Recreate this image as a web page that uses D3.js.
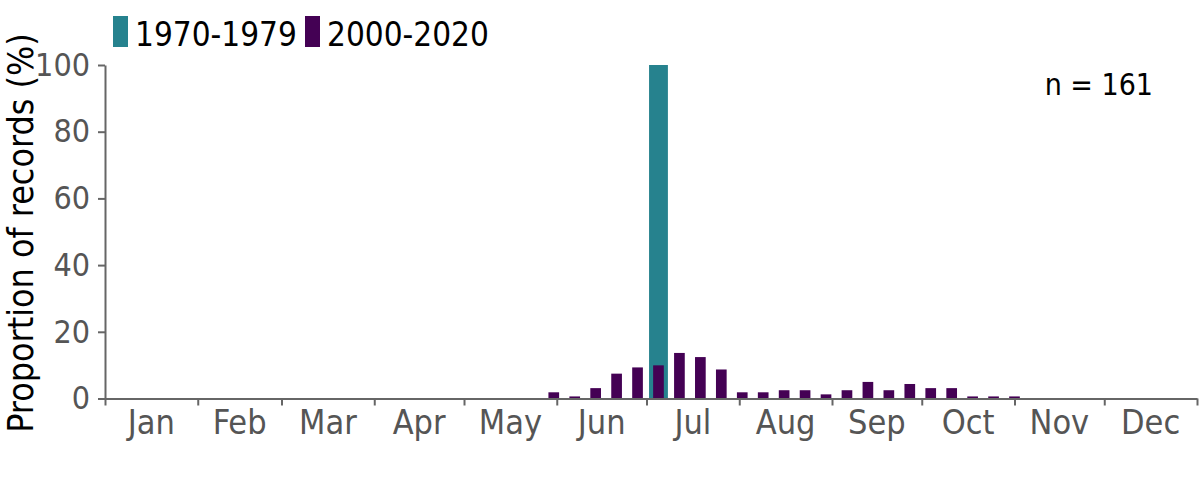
<!DOCTYPE html>
<html>
<head>
<meta charset="utf-8">
<script src="https://cdn.jsdelivr.net/npm/d3@7"></script>
<style>
  html, body { margin: 0; padding: 0; background: #fff; }
  svg { display: block; }
  text { font-family: "DejaVu Sans Condensed", "DejaVu Sans", sans-serif; font-stretch: condensed; }
</style>
</head>
<body>
<svg id="chart" width="1200" height="480"></svg>
<script>
// ---- data ----
const monthLabels = ["Jan","Feb","Mar","Apr","May","Jun","Jul","Aug","Sep","Oct","Nov","Dec"];
const monthDays = [31,28,31,30,31,30,31,31,30,31,30,31];
const yTicks = [0,20,40,60,80,100];
const seriesNames = ["1970-1979","2000-2020"];
const seriesColors = ["#26828e","#440154"];
// week of year (1-based) and proportion of records (%)
const earlyWeeks = [27];
const earlyValues = [100];
const recentWeeks = [22,23,24,25,26,27,28,29,30,31,32,33,34,35,36,37,38,39,40,41,42,43,44];
const recentValues = [1.86,0.62,3.11,7.45,9.32,9.94,13.66,12.42,8.70,1.86,1.86,2.48,2.48,1.24,2.48,4.97,2.48,4.35,3.11,3.11,0.62,0.62,0.62];
const nLabel = "n = 161";
const yTitle = "Proportion of records (%)";

// ---- layout ----
const svg = d3.select("#chart");
const x = d3.scaleLinear().domain([0, 365]).range([105, 1197]);
const y = d3.scaleLinear().domain([0, 100]).range([398.5, 65]);
const axisColor = "#666666";
const labelColor = "#555555";

const monthStarts = [0];
monthDays.forEach((d, i) => monthStarts.push(monthStarts[i] + d));
const weekCenter = w => 7 * (w - 1) + 3;
const weekPx = x(7) - x(0);

// bars
const early = earlyWeeks.map((w, i) => ({w, v: earlyValues[i]}));
const recent = recentWeeks.map((w, i) => ({w, v: recentValues[i]}));
const wideW = weekPx * 0.9, narrowW = weekPx * 0.51;
svg.append("g").selectAll("rect").data(early).join("rect")
  .attr("x", d => x(weekCenter(d.w)) - wideW / 2)
  .attr("width", wideW)
  .attr("y", d => y(d.v))
  .attr("height", d => y(0) - y(d.v))
  .attr("fill", seriesColors[0]);
svg.append("g").selectAll("rect").data(recent).join("rect")
  .attr("x", d => x(weekCenter(d.w)) - narrowW / 2)
  .attr("width", narrowW)
  .attr("y", d => y(d.v))
  .attr("height", d => y(0) - y(d.v))
  .attr("fill", seriesColors[1]);

// x axis (ticks at month boundaries)
const xAxis = d3.axisBottom(x).tickValues(monthStarts).tickSize(7).tickSizeOuter(0).tickFormat("");
const gx = svg.append("g").attr("transform", `translate(0,${y(0)})`).call(xAxis);
gx.select(".domain").attr("stroke", axisColor).attr("stroke-width", 2);
gx.selectAll(".tick line").attr("stroke", axisColor).attr("stroke-width", 2);
svg.append("g").selectAll("text").data(monthLabels).join("text")
  .attr("x", (d, i) => x(monthStarts[i] + monthDays[i] / 2))
  .attr("y", 434)
  .attr("text-anchor", "middle")
  .attr("font-size", 34)
  .attr("fill", labelColor)
  .text(d => d);

// y axis
const yAxis = d3.axisLeft(y).tickValues(yTicks).tickSize(7).tickSizeOuter(0).tickPadding(8);
const gy = svg.append("g").attr("transform", `translate(${x(0)},0)`).call(yAxis);
gy.select(".domain").attr("stroke", axisColor).attr("stroke-width", 2);
gy.selectAll(".tick line").attr("stroke", axisColor).attr("stroke-width", 2);
gy.selectAll(".tick text").attr("font-size", 32).attr("fill", labelColor)
  .style("font-family", '"DejaVu Sans Condensed", "DejaVu Sans", sans-serif');

// y title
svg.append("text")
  .attr("transform", "translate(33,233) rotate(-90)")
  .attr("text-anchor", "middle")
  .attr("font-size", 35.5)
  .attr("fill", "#000")
  .text(yTitle);

// legend
const legX = [113, 305];
const leg = svg.append("g");
seriesNames.forEach((name, i) => {
  leg.append("rect").attr("x", legX[i]).attr("y", 16).attr("width", 15).attr("height", 31).attr("fill", seriesColors[i]);
  leg.append("text").attr("x", legX[i] + 22).attr("y", 46).attr("font-size", 33).attr("fill", "#000").text(name);
});

// n label
svg.append("text").attr("x", 1153).attr("y", 95).attr("text-anchor", "end")
  .attr("font-size", 30).attr("fill", "#000").text(nLabel);
</script>
</body>
</html>
